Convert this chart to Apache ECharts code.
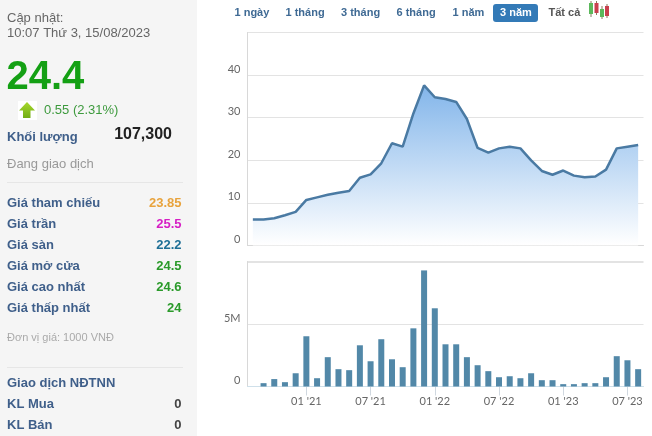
<!DOCTYPE html>
<html><head><meta charset="utf-8">
<style>html,body{margin:0;padding:0;background:#fff}#c{width:652px;height:436px}</style>
<script src="https://cdn.jsdelivr.net/npm/echarts@6/dist/echarts.min.js"></script>
</head><body><div id="c"></div>
<script>
const months = ["08 '20","09 '20","10 '20","11 '20","12 '20","01 '21","02 '21","03 '21","04 '21","05 '21","06 '21","07 '21","08 '21","09 '21","10 '21","11 '21","12 '21","01 '22","02 '22","03 '22","04 '22","05 '22","06 '22","07 '22","08 '22","09 '22","10 '22","11 '22","12 '22","01 '23","02 '23","03 '23","04 '23","05 '23","06 '23","07 '23","08 '23"];
const prices = [6.1,6.1,6.4,7.1,7.9,10.7,11.3,11.9,12.4,12.8,15.9,16.7,19.3,24.0,23.2,31,37.6,34.8,34.4,33.7,29.7,22.9,21.8,22.8,23.2,22.8,20.0,17.5,16.6,17.6,16.4,16.0,16.2,17.8,22.8,23.2,23.6];
const volumes = [0,0.27,0.6,0.35,1.07,4.06,0.67,2.37,1.4,1.32,3.33,2.04,3.82,2.2,1.56,4.7,9.38,6.32,3.41,3.41,2.37,1.72,1.24,0.75,0.83,0.67,1.07,0.51,0.51,0.19,0.19,0.27,0.27,0.75,2.45,2.12,1.4];
const tabs = ["1 ngày","1 tháng","3 tháng","6 tháng","1 năm","3 năm","Tất cả"];
const tabX = [234.5,285.5,341,396.5,452.5,500,548.5];
const rows = [["Giá tham chiếu","23.85","#e8a33d"],["Giá trần","25.5","#d61fc4"],["Giá sàn","22.2","#1f6f96"],["Giá mở cửa","24.5","#2a9a2a"],["Giá cao nhất","24.6","#2a9a2a"],["Giá thấp nhất","24","#2a9a2a"]];
const labelColor = "#3f5f8a";
const F = "Arial, 'Liberation Sans', sans-serif";
const A = "Lato, sans-serif";

function T(x,y,text,size,fill,weight,align){
  return {type:'text',x:x,y:y,z:10,style:{text:text,font:(weight||'normal')+' '+size+'px '+F,fill:fill,textAlign:align||'left',textVerticalAlign:'middle'}};
}
const g = [];
g.push({type:'rect',shape:{x:0,y:0,width:197,height:436},style:{fill:'#f5f5f5'},z:0});
g.push(T(7,18,"Cập nhật:",13,"#666"));
g.push(T(7,33,"10:07 Thứ 3, 15/08/2023",13,"#666"));
g.push(T(6.5,77.5,"24.4",40,"#14a014","bold"));
g.push({type:'rect',shape:{x:18,y:101,width:19,height:19},style:{fill:'#fff'},z:5});
g.push({type:'polygon',shape:{points:[[27,102],[35,110.5],[30.5,110.5],[30.5,118],[23,118],[23,110.5],[19,110.5]]},style:{fill:new echarts.graphic.LinearGradient(0,0,0,1,[{offset:0,color:'#a6d82c'},{offset:1,color:'#72ad14'}])},z:6});
g.push(T(44,110,"0.55 (2.31%)",13,"#3d9a3d"));
g.push(T(7,137,"Khối lượng",13,labelColor,"bold"));
g.push(T(172,135,"107,300",16,"#222","bold","right"));
g.push(T(7,164,"Đang giao dịch",13,"#999"));
g.push({type:'line',shape:{x1:7,y1:182.5,x2:183,y2:182.5},style:{stroke:'#e6e6e6',lineWidth:1},z:5});
rows.forEach((r,i)=>{
  const y = 203+i*21;
  g.push(T(7,y,r[0],13,labelColor,"bold"));
  g.push(T(181.5,y,r[1],13,r[2],"bold","right"));
});
g.push(T(7,338,"Đơn vị giá: 1000 VNĐ",11,"#aaa"));
g.push({type:'line',shape:{x1:7,y1:367.5,x2:183,y2:367.5},style:{stroke:'#e6e6e6',lineWidth:1},z:5});
g.push(T(7,383,"Giao dịch NĐTNN",13,labelColor,"bold"));
g.push(T(7,404,"KL Mua",13,labelColor,"bold"));
g.push(T(181.5,404,"0",13,"#444","bold","right"));
g.push(T(7,425,"KL Bán",13,labelColor,"bold"));
g.push(T(181.5,425,"0",13,"#444","bold","right"));
g.push({type:'rect',shape:{x:493,y:4,width:45,height:18,r:3},style:{fill:'#337ab7'},z:5});
tabs.forEach((t,i)=>{
  g.push(T(tabX[i],12.5,t,11,i===5?'#fff':(i===6?'#555':'#3f6a94'),'bold'));
});
// candle icon: x, body top, body height, colour, wick top, wick bottom
[[589,3,11,'#5cb85c',1,17],[594.5,3,10,'#c9404e',1,15],[600,9,8,'#5cb85c',6,19],[605,6,10,'#c9404e',4,18]].forEach(c=>{
  g.push({type:'line',shape:{x1:c[0]+2,y1:c[4],x2:c[0]+2,y2:c[5]},style:{stroke:'#8a7a60',lineWidth:1},z:5});
  g.push({type:'rect',shape:{x:c[0],y:c[1],width:4,height:c[2]},style:{fill:c[3]},z:6});
});

const axisLine = {lineStyle:{color:'#d8d8d8',width:1}};
const split = {show:true,lineStyle:{color:'#e3e3e3',width:1}};
const common = {type:'category',data:months,boundaryGap:true};
const yLabel = {margin:7,color:'#666',fontFamily:A,fontSize:11,verticalAlign:'bottom',lineHeight:12};
const chart = echarts.init(document.getElementById('c'),null,{renderer:'canvas'});
chart.setOption({
  animation:false,
  backgroundColor:'#fff',
  graphic:{elements:g},
  grid:[{left:247.5,right:8.5,top:32.5,height:213},{left:247.5,right:8.5,top:261.5,height:125}],
  xAxis:[
    Object.assign({},common,{gridIndex:0,axisLine:axisLine,axisTick:{show:false},axisLabel:{show:false},splitLine:{show:false}}),
    Object.assign({},common,{gridIndex:1,axisLine:{lineStyle:{color:'#cfe0ea',width:1}},
      axisTick:{show:true,alignWithLabel:true,length:9,lineStyle:{color:'#d0d8e0'},interval:(i,v)=>/^(01|07) '2[123]/.test(v)},
      axisLabel:{interval:(i,v)=>/^(01|07) '2[123]/.test(v),margin:8,color:'#666',fontFamily:A,fontSize:11,lineHeight:14,hideOverlap:false}})
  ],
  yAxis:[
    {gridIndex:0,type:'value',min:0,max:50,interval:10,axisLine:{show:true,lineStyle:{color:'#d8d8d8'}},axisTick:{show:false},splitLine:split,
      axisLabel:Object.assign({},yLabel,{formatter:v=>v>=50?'':String(v)})},
    {gridIndex:1,type:'value',min:0,max:10.1,interval:5,axisLine:{show:true,lineStyle:{color:'#d8d8d8'}},axisTick:{show:false},splitLine:split,
      axisLabel:Object.assign({},yLabel,{formatter:v=>v===0?'0':(v===5?'5M':'')})}
  ],
  series:[
    {type:'line',xAxisIndex:0,yAxisIndex:0,data:prices,symbol:'none',smooth:false,
      lineStyle:{color:'#4a7aa3',width:2.5},
      areaStyle:{opacity:1,color:new echarts.graphic.LinearGradient(0,85,0,245,[{offset:0,color:'#82b5ea'},{offset:1,color:'#ffffff'}],true)}},
    {type:'bar',xAxisIndex:1,yAxisIndex:1,data:volumes,barWidth:6,itemStyle:{color:'#5288a8'}}
  ]
});
</script></body></html>
